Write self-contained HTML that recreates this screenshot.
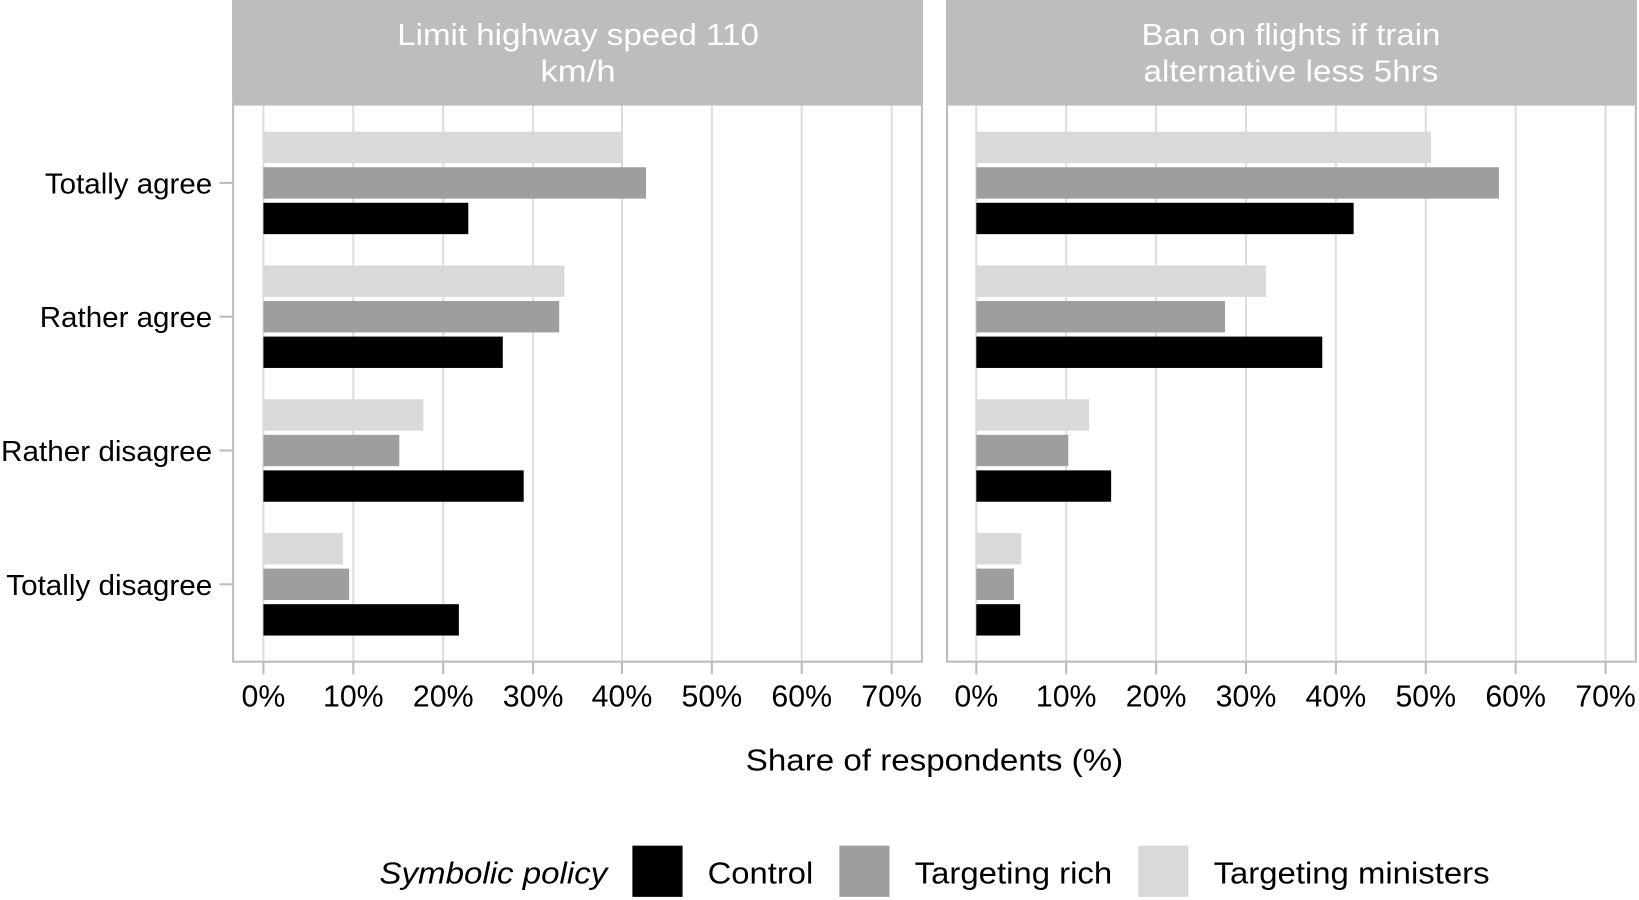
<!DOCTYPE html>
<html><head><meta charset="utf-8"><style>html,body{margin:0;padding:0;background:#fff}svg{display:block}</style></head>
<body>
<svg width="1639" height="900" viewBox="0 0 1568 861" preserveAspectRatio="none" font-family="Liberation Sans, Arial, sans-serif">
<rect x="222" y="0" width="661" height="100" fill="#bdbdbd"/>
<rect x="905" y="0" width="661" height="100" fill="#bdbdbd"/>
<g fill="#fff" font-size="29" text-anchor="middle">
<text x="553" y="43" textLength="346" lengthAdjust="spacingAndGlyphs">Limit highway speed 110</text><text x="553" y="78" textLength="72" lengthAdjust="spacingAndGlyphs">km/h</text>
<text x="1235" y="43" textLength="286" lengthAdjust="spacingAndGlyphs">Ban on flights if train</text><text x="1235" y="78" textLength="282" lengthAdjust="spacingAndGlyphs">alternative less 5hrs</text>
</g>
<g stroke="#dedede" stroke-width="2">
<line x1="252" y1="100" x2="252" y2="633"/><line x1="338" y1="100" x2="338" y2="633"/><line x1="424" y1="100" x2="424" y2="633"/><line x1="510" y1="100" x2="510" y2="633"/><line x1="595" y1="100" x2="595" y2="633"/><line x1="681" y1="100" x2="681" y2="633"/><line x1="767" y1="100" x2="767" y2="633"/><line x1="853" y1="100" x2="853" y2="633"/>
<line x1="934" y1="100" x2="934" y2="633"/><line x1="1020" y1="100" x2="1020" y2="633"/><line x1="1106" y1="100" x2="1106" y2="633"/><line x1="1192" y1="100" x2="1192" y2="633"/><line x1="1278" y1="100" x2="1278" y2="633"/><line x1="1364" y1="100" x2="1364" y2="633"/><line x1="1450" y1="100" x2="1450" y2="633"/><line x1="1536" y1="100" x2="1536" y2="633"/>
</g>
<g>
<rect x="252" y="126" width="344" height="30" fill="#d8d9d8"/><rect x="252" y="160" width="366" height="30" fill="#9e9e9e"/><rect x="252" y="194" width="196" height="30" fill="#000"/>
<rect x="252" y="254" width="288" height="30" fill="#d8d9d8"/><rect x="252" y="288" width="283" height="30" fill="#9e9e9e"/><rect x="252" y="322" width="229" height="30" fill="#000"/>
<rect x="252" y="382" width="153" height="30" fill="#d8d9d8"/><rect x="252" y="416" width="130" height="30" fill="#9e9e9e"/><rect x="252" y="450" width="249" height="30" fill="#000"/>
<rect x="252" y="510" width="76" height="30" fill="#d8d9d8"/><rect x="252" y="544" width="82" height="30" fill="#9e9e9e"/><rect x="252" y="578" width="187" height="30" fill="#000"/>
</g>
<g>
<rect x="934" y="126" width="435" height="30" fill="#d8d9d8"/><rect x="934" y="160" width="500" height="30" fill="#9e9e9e"/><rect x="934" y="194" width="361" height="30" fill="#000"/>
<rect x="934" y="254" width="277" height="30" fill="#d8d9d8"/><rect x="934" y="288" width="238" height="30" fill="#9e9e9e"/><rect x="934" y="322" width="331" height="30" fill="#000"/>
<rect x="934" y="382" width="108" height="30" fill="#d8d9d8"/><rect x="934" y="416" width="88" height="30" fill="#9e9e9e"/><rect x="934" y="450" width="129" height="30" fill="#000"/>
<rect x="934" y="510" width="43" height="30" fill="#d8d9d8"/><rect x="934" y="544" width="36" height="30" fill="#9e9e9e"/><rect x="934" y="578" width="42" height="30" fill="#000"/>
</g>
<rect x="223" y="100" width="659" height="533" fill="none" stroke="#bdbdbd" stroke-width="2"/>
<rect x="906" y="100" width="659" height="533" fill="none" stroke="#bdbdbd" stroke-width="2"/>
<g stroke="#bdbdbd" stroke-width="2">
<line x1="210" y1="175" x2="222" y2="175"/><line x1="210" y1="303" x2="222" y2="303"/><line x1="210" y1="431" x2="222" y2="431"/><line x1="210" y1="559" x2="222" y2="559"/>
<line x1="252" y1="633" x2="252" y2="645"/><line x1="338" y1="633" x2="338" y2="645"/><line x1="424" y1="633" x2="424" y2="645"/><line x1="510" y1="633" x2="510" y2="645"/><line x1="595" y1="633" x2="595" y2="645"/><line x1="681" y1="633" x2="681" y2="645"/><line x1="767" y1="633" x2="767" y2="645"/><line x1="853" y1="633" x2="853" y2="645"/>
<line x1="934" y1="633" x2="934" y2="645"/><line x1="1020" y1="633" x2="1020" y2="645"/><line x1="1106" y1="633" x2="1106" y2="645"/><line x1="1192" y1="633" x2="1192" y2="645"/><line x1="1278" y1="633" x2="1278" y2="645"/><line x1="1364" y1="633" x2="1364" y2="645"/><line x1="1450" y1="633" x2="1450" y2="645"/><line x1="1536" y1="633" x2="1536" y2="645"/>
</g>
<g font-size="27" text-anchor="end" fill="#000" lengthAdjust="spacingAndGlyphs">
<text x="203" y="185" textLength="160" lengthAdjust="spacingAndGlyphs">Totally agree</text><text x="203" y="313" textLength="165" lengthAdjust="spacingAndGlyphs">Rather agree</text><text x="203" y="441" textLength="202" lengthAdjust="spacingAndGlyphs">Rather disagree</text><text x="203" y="569" textLength="197" lengthAdjust="spacingAndGlyphs">Totally disagree</text>
</g>
<g font-size="29" text-anchor="middle" fill="#000">
<text x="252" y="676">0%</text><text x="338" y="676">10%</text><text x="424" y="676">20%</text><text x="510" y="676">30%</text><text x="595" y="676">40%</text><text x="681" y="676">50%</text><text x="767" y="676">60%</text><text x="853" y="676">70%</text>
<text x="934" y="676">0%</text><text x="1020" y="676">10%</text><text x="1106" y="676">20%</text><text x="1192" y="676">30%</text><text x="1278" y="676">40%</text><text x="1364" y="676">50%</text><text x="1450" y="676">60%</text><text x="1536" y="676">70%</text>
<text x="894" y="737" textLength="361" lengthAdjust="spacingAndGlyphs">Share of respondents (%)</text>
</g>
<g font-size="29" fill="#000">
<text x="581" y="845" text-anchor="end" font-style="italic" textLength="218" lengthAdjust="spacingAndGlyphs">Symbolic policy</text>
<rect x="605" y="809" width="48" height="49" fill="#000"/><text x="677" y="845" textLength="101" lengthAdjust="spacingAndGlyphs">Control</text>
<rect x="803" y="809" width="48" height="49" fill="#9e9e9e"/><text x="875" y="845" textLength="189" lengthAdjust="spacingAndGlyphs">Targeting rich</text>
<rect x="1089" y="809" width="48" height="49" fill="#d8d9d8"/><text x="1161" y="845" textLength="264" lengthAdjust="spacingAndGlyphs">Targeting ministers</text>
</g>
</svg>
</body></html>
